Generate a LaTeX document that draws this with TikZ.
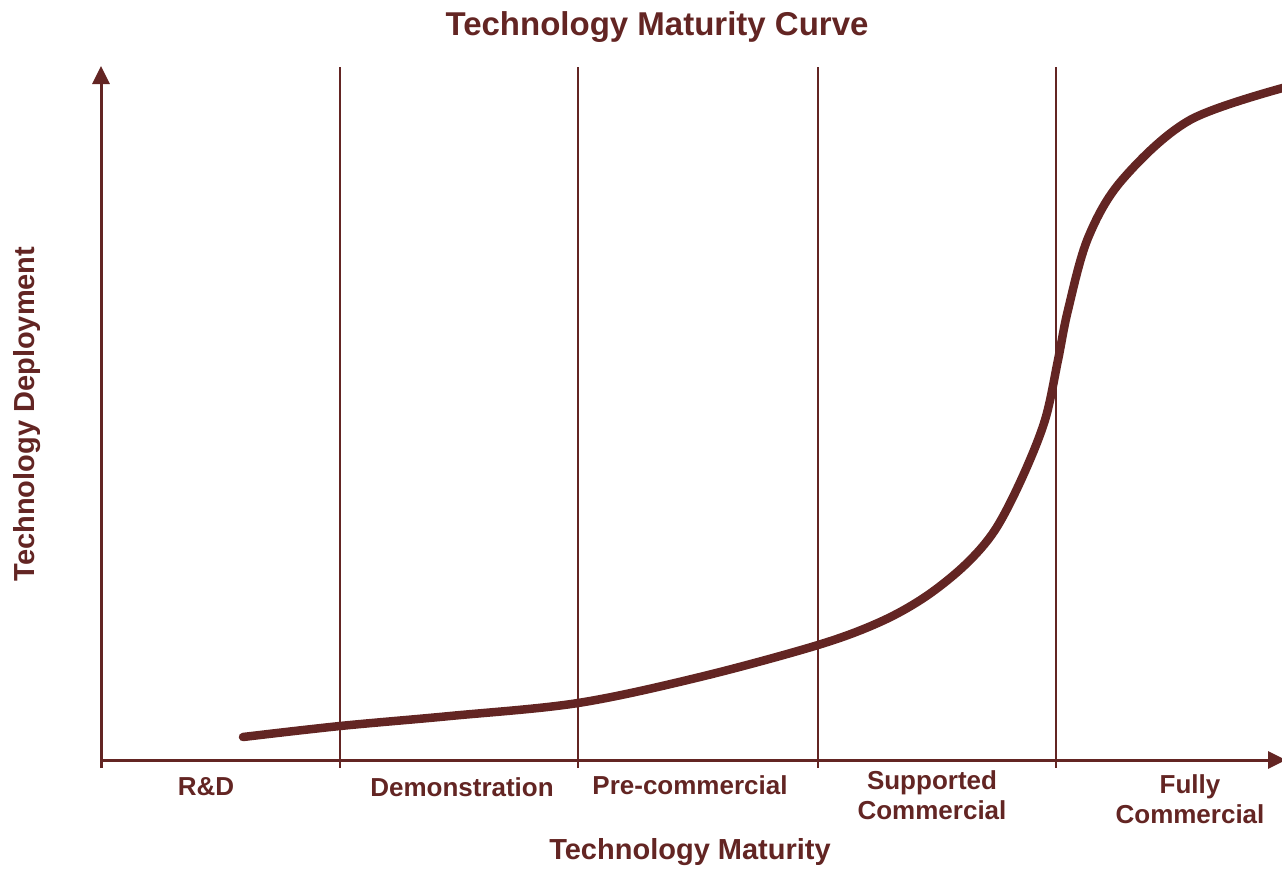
\documentclass[tikz,border=0pt]{standalone}
\usepackage{fontspec}
\setmainfont{Liberation Sans}
\usepackage{xcolor}
\usepackage{tikz}
\usetikzlibrary{arrows.meta,positioning,calc}

\definecolor{maroon}{HTML}{632523}

\begin{document}
\begin{tikzpicture}[
    x=1pt, y=-1pt,
    axis/.style={draw=maroon, line width=3pt, -{Triangle[length=18pt,width=17pt]}},
    stage/.style={draw=maroon, line width=2.7pt},
    lbl/.style={text=maroon, font=\fontsize{26}{30}\selectfont\bfseries, align=center, inner sep=0pt},
    ttl/.style={text=maroon, font=\fontsize{29}{32}\selectfont\bfseries, inner sep=0pt},
]
\useasboundingbox (0,0) rectangle (1282,868);

% Axes
\coordinate (origin) at (101,760);
\coordinate (ytop) at (101,66);
\coordinate (xend) at (1286,760);
\draw[axis] (101,768) -- (ytop);
\draw[axis] (origin) -- (xend);

% Stage borders
\foreach \name/\x in {rd/340, demo/578, pre/818, supp/1056} {
    \coordinate (\name top) at (\x,67);
    \coordinate (\name bot) at (\x,768);
    \draw[stage] (\name top) -- (\name bot);
}

% Stage labels
\node[lbl] (rdlabel) at (206,787) {R\&D};
\node[lbl] (demolabel) at (462,787) {Demonstration};
\node[lbl] (prelabel) at (690,785) {Pre-commercial};
\node[lbl] (supplabel) at (932,795) {Supported\\Commercial};
\node[lbl] (fulllabel) at (1190,799) {Fully\\Commercial};

% Maturity curve
\draw[maroon, line width=8.5pt, line cap=round] plot[smooth, tension=0.55] coordinates {
    (243,737) (340,726) (450,716) (578,703) (700,677) (818,645)
    (880,622) (925,597) (965,565) (995,530) (1022,478) (1045,420)
    (1058,360) (1068,310) (1088,238) (1122,180) (1190,120) (1290,86)};

% Axis titles
\node[ttl, font=\fontsize{33}{36}\selectfont\bfseries] (title) at (657,27) {Technology Maturity Curve};
\node[ttl] (xtitle) at (690,852) {Technology Maturity};
\node[ttl, rotate=90] (ytitle) at (27,414) {Technology Deployment};

\end{tikzpicture}
\end{document}
